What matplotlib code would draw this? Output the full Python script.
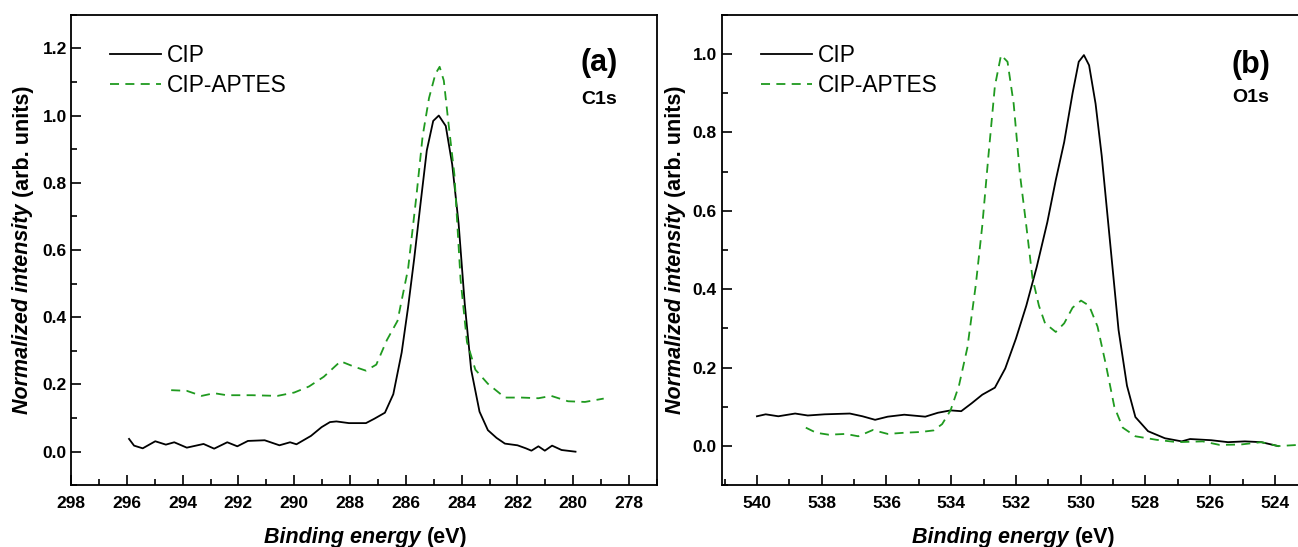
import matplotlib
matplotlib.use("Agg")
import matplotlib.pyplot as plt
from matplotlib.ticker import MultipleLocator

plt.rcParams['font.family'] = ['Liberation Sans', 'DejaVu Sans']

# C1s panel
c1s_cip_e = [295.92, 295.74, 295.43, 294.98, 294.6, 294.3, 293.85, 293.25, 292.87, 292.4,
             292.04, 291.66, 291.06, 290.53, 290.15, 289.92, 289.4, 289.02, 288.72, 288.49,
             288.04, 287.43, 287.13, 286.75, 286.45, 286.15, 285.92, 285.7, 285.47, 285.25,
             285.02, 284.82, 284.57, 284.34, 284.11, 283.89, 283.66, 283.36, 283.06, 282.75,
             282.45, 282.0, 281.7, 281.5, 281.25, 281.02, 280.76, 280.42, 279.92]
c1s_cip_i = [0.038, 0.018, 0.010, 0.031, 0.021, 0.028, 0.012, 0.023, 0.009, 0.028,
             0.016, 0.032, 0.034, 0.019, 0.028, 0.022, 0.047, 0.073, 0.088, 0.090,
             0.085, 0.085, 0.098, 0.116, 0.171, 0.295, 0.43, 0.575, 0.741, 0.896,
             0.984, 1.0, 0.969, 0.855, 0.679, 0.44, 0.244, 0.119, 0.064, 0.041,
             0.024, 0.019, 0.010, 0.003, 0.016, 0.003, 0.018, 0.005, 0.0]

c1s_aptes_e = [294.41, 293.85, 293.32, 292.87, 292.42, 291.51, 290.6, 290.0, 289.47, 288.94,
               288.34, 287.89, 287.43, 287.06, 286.68, 286.3, 285.92, 285.62, 285.4, 285.17,
               284.94, 284.79, 284.64, 284.49, 284.26, 284.04, 283.81, 283.51, 283.06, 282.45,
               281.85, 281.25, 280.79, 280.19, 279.58, 278.91]
c1s_aptes_i = [0.183, 0.181, 0.166, 0.174, 0.168, 0.168, 0.166, 0.176, 0.194, 0.223,
               0.269, 0.254, 0.241, 0.259, 0.332, 0.389, 0.544, 0.762, 0.938, 1.052,
               1.124, 1.145, 1.104, 0.990, 0.824, 0.513, 0.326, 0.244, 0.202, 0.161,
               0.161, 0.159, 0.166, 0.150, 0.148, 0.158]

# O1s panel
o1s_cip_e = [540.0, 539.73, 539.34, 538.82, 538.43, 537.91, 537.13, 536.74, 536.35, 535.96,
             535.45, 534.8, 534.41, 534.02, 533.69, 533.37, 533.04, 532.65, 532.33, 532.0,
             531.68, 531.36, 531.03, 530.77, 530.51, 530.25, 530.06, 529.9, 529.74, 529.54,
             529.35, 529.09, 528.83, 528.57, 528.31, 527.92, 527.4, 526.88, 526.62, 525.97,
             525.45, 524.93, 524.42, 523.9]
o1s_cip_i = [0.076, 0.081, 0.076, 0.083, 0.078, 0.081, 0.083, 0.076, 0.067, 0.075,
             0.080, 0.075, 0.085, 0.091, 0.089, 0.109, 0.131, 0.149, 0.198, 0.274,
             0.358, 0.456, 0.571, 0.678, 0.775, 0.9, 0.98, 0.997, 0.971, 0.873,
             0.74, 0.518, 0.296, 0.154, 0.074, 0.038, 0.020, 0.012, 0.018, 0.015,
             0.010, 0.012, 0.010, 0.0]

o1s_aptes_e = [538.49, 538.17, 537.78, 537.26, 536.87, 536.42, 535.96, 535.45, 534.93, 534.54,
               534.28, 534.02, 533.76, 533.5, 533.24, 533.04, 532.85, 532.65, 532.46, 532.26,
               532.07, 531.88, 531.68, 531.49, 531.29, 531.1, 530.77, 530.51, 530.25, 529.99,
               529.74, 529.48, 529.22, 528.96, 528.7, 528.31, 527.66, 527.01, 526.23, 525.71,
               525.06, 524.42, 523.9, 523.28]
o1s_aptes_i = [0.047, 0.034, 0.029, 0.031, 0.025, 0.041, 0.031, 0.034, 0.036, 0.040,
               0.056, 0.091, 0.154, 0.251, 0.411, 0.562, 0.74, 0.918, 0.997, 0.98,
               0.873, 0.696, 0.562, 0.429, 0.358, 0.313, 0.291, 0.313, 0.353, 0.371,
               0.358, 0.305, 0.207, 0.100, 0.047, 0.025, 0.016, 0.010, 0.012, 0.003,
               0.004, 0.010, 0.0, 0.003]

GREEN = '#1f9a1f'

fig = plt.figure(figsize=(12.98, 5.47), dpi=100)
ax1 = fig.add_axes([71 / 1298, 61.7 / 547, 586 / 1298, 470.6 / 547])
ax2 = fig.add_axes([722.3 / 1298, 61.7 / 547, 585 / 1298, 470.6 / 547])


def style_axes(ax, xlim, ylim, ypad):
    ax.set_xlim(*xlim)
    ax.set_ylim(*ylim)
    ax.xaxis.set_major_locator(MultipleLocator(2))
    ax.xaxis.set_minor_locator(MultipleLocator(1))
    ax.yaxis.set_major_locator(MultipleLocator(0.2))
    ax.yaxis.set_minor_locator(MultipleLocator(0.1))
    ax.tick_params(which='both', direction='in', width=1.2, top=False, right=False)
    ax.tick_params(which='major', length=7)
    ax.tick_params(which='minor', length=4)
    ax.tick_params(axis='x', pad=8, labelsize=12.5)
    ax.tick_params(axis='y', pad=ypad, labelsize=12.5)
    for lab in ax.get_xticklabels() + ax.get_yticklabels():
        lab.set_fontweight('bold')
    for sp in ax.spines.values():
        sp.set_linewidth(1.3)
    ax.yaxis.set_major_formatter(plt.FuncFormatter(lambda v, p: f"{v:.1f}"))


ax1.plot(c1s_cip_e, c1s_cip_i, color='black', lw=1.3, label='CIP')
ax1.plot(c1s_aptes_e, c1s_aptes_i, color=GREEN, lw=1.3, ls=(0, (5, 3.5)), label='CIP-APTES')
style_axes(ax1, (298, 277), (-0.1, 1.3), 3)

ax2.plot(o1s_cip_e, o1s_cip_i, color='black', lw=1.3, label='CIP')
ax2.plot(o1s_aptes_e, o1s_aptes_i, color=GREEN, lw=1.3, ls=(0, (5, 3.5)), label='CIP-APTES')
style_axes(ax2, (541.07, 523.0), (-0.1, 1.1), 4)

for ax in (ax1, ax2):
    ax.legend(loc='upper left', bbox_to_anchor=(0.066, 0.938), frameon=False,
              fontsize=16.4, handlelength=2.25, handletextpad=0.25, labelspacing=0.3,
              borderpad=0, borderaxespad=0)

fig.text(599 / 1298, 1 - 63 / 547, '(a)', fontsize=22, fontweight='bold', ha='center', va='center')
fig.text(599 / 1298, 1 - 100 / 547, 'C1s', fontsize=14, fontweight='bold', ha='center', va='center')
fig.text(1251 / 1298, 1 - 65 / 547, '(b)', fontsize=22, fontweight='bold', ha='center', va='center')
fig.text(1251 / 1298, 1 - 98 / 547, 'O1s', fontsize=14, fontweight='bold', ha='center', va='center')

renderer = fig.canvas.get_renderer()


def two_part_label(x, y, first, second, rotation=0, size=15.5):
    # first part bold italic, second part bold, centred together on (x, y)
    if rotation == 0:
        t1 = fig.text(x, y, first, fontsize=size, fontweight='bold', style='italic',
                      ha='left', va='center')
        t2 = fig.text(x, y, second, fontsize=size, fontweight='bold', ha='left', va='center')
        w1 = t1.get_window_extent(renderer).width / fig.bbox.width
        w2 = t2.get_window_extent(renderer).width / fig.bbox.width
        gap = 0.3 * size * 100 / 72 / fig.bbox.width
        x0 = x - (w1 + gap + w2) / 2
        t1.set_x(x0)
        t2.set_x(x0 + w1 + gap)
    else:
        t1 = fig.text(x, y, first, fontsize=size, fontweight='bold', style='italic',
                      ha='center', va='bottom', rotation=90)
        t2 = fig.text(x, y, second, fontsize=size, fontweight='bold',
                      ha='center', va='bottom', rotation=90)
        h1 = t1.get_window_extent(renderer).height / fig.bbox.height
        h2 = t2.get_window_extent(renderer).height / fig.bbox.height
        gap = 0.3 * size * 100 / 72 / fig.bbox.height
        y0 = y - (h1 + gap + h2) / 2
        t1.set_y(y0)
        t2.set_y(y0 + h1 + gap)


two_part_label(366 / 1298, 1 - 537 / 547, 'Binding energy', '(eV)')
two_part_label(1014 / 1298, 1 - 537 / 547, 'Binding energy', '(eV)')
two_part_label(23 / 1298, 1 - 250 / 547, 'Normalized intensity', '(arb. units)', rotation=90)
two_part_label(675 / 1298, 1 - 250 / 547, 'Normalized intensity', '(arb. units)', rotation=90)

fig.savefig('out.png', dpi=100)
